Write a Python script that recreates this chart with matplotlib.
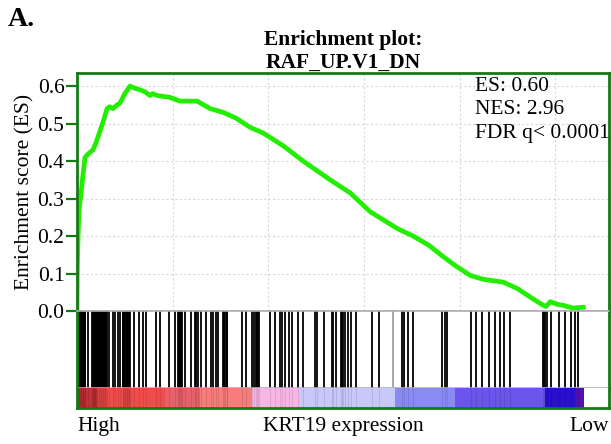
import numpy as np
import matplotlib
matplotlib.use('Agg')
import matplotlib.pyplot as plt

plt.rcParams['font.family'] = ['Liberation Serif', 'DejaVu Serif']

# ---- data (ranks in gene list, running enrichment score) ----
n_genes = 26520
x_max = 27800

es_rank = [0, 15, 40, 70, 110, 200, 330, 420, 600, 840, 1000, 1200, 1400, 1570,
           1700, 1880, 2100, 2250, 2500, 2770, 3000, 3300, 3550, 3820, 3950,
           4200, 4860, 5390, 6280, 6960, 7640, 8300, 9050, 9730, 10800, 11820,
           13230, 14280, 15320, 16740, 17570, 18400, 19140, 19800, 20550,
           21200, 22280, 23010, 23600, 24210, 24500, 24740, 25100, 25420,
           25900, 26460]
es_value = [0, 0.10, 0.17, 0.22, 0.27, 0.31, 0.37, 0.41, 0.42, 0.43, 0.45, 0.48,
            0.51, 0.54, 0.545, 0.54, 0.55, 0.555, 0.58, 0.60, 0.595, 0.59,
            0.585, 0.575, 0.58, 0.575, 0.57, 0.56, 0.56, 0.54, 0.53, 0.515,
            0.49, 0.475, 0.44, 0.40, 0.35, 0.315, 0.265, 0.22, 0.20, 0.175,
            0.145, 0.12, 0.095, 0.085, 0.077, 0.06, 0.04, 0.02, 0.012, 0.025,
            0.018, 0.015, 0.008, 0.01]

hit_rank = [20, 55, 90, 125, 160, 195, 230, 265, 300, 335, 370, 405, 435,
            575,
            790, 825, 860, 895, 930, 965, 1000, 1035, 1070, 1105, 1140, 1175,
            1210, 1245, 1280, 1315, 1350, 1385, 1420, 1455, 1490, 1525, 1555,
            1658, 1899, 2003, 2144, 2249,
            2390, 2425, 2460, 2495, 2530, 2565, 2600, 2635, 2670, 2705, 2740,
            2770,
            2997, 3258, 3436, 3609, 4132, 4341, 4796, 5110, 5282, 5340, 5390,
            5440, 5490, 5648, 5962, 6171, 6230, 6300, 6485,
            6731, 7024, 7130, 7254, 7375, 7636, 7700, 7760, 7820, 7860, 8645,
            8855, 9137, 9257, 9346, 9400, 9450, 9520, 10078, 10340, 10617,
            10737, 10878, 11088, 11260, 11574, 11835, 12447, 12536, 12918,
            13320, 13389, 13509, 13771, 13840, 13880, 14000, 14173, 14293,
            14555, 15429, 15779, 16998, 17087, 17296, 17557, 19090, 19210,
            19351, 20606, 20852, 21166, 21511, 21846, 22123, 22296, 22646,
            24336, 24400, 24440, 24566, 24775, 25172, 25522, 25820, 26008,
            26186]
gray_hit_rank = [16527]

# ranked-metric colour bar: segment edges (ranks) and colours
bar_edges = [0, 1050, 4600, 6430, 9150, 11660, 16630, 19770, 24480, 26050, 26520]
bar_colors = ['#c4323c', '#f04c4c', '#e8606a', '#f87c7c', '#f8b6e6',
              '#c8c8fa', '#8a8af5', '#6c55ec', '#2a10cc', '#5510b0']

stats_text = 'ES: 0.60\nNES: 2.96\nFDR q< 0.0001'
green_border = '#157a15'
sep_gray = '#b0b0b0'
fs = 15.5

fig = plt.figure(figsize=(6.11, 4.44), dpi=100)

ax_es = fig.add_axes([0.126, 0.2995, 0.8707, 0.536])
ax_hit = fig.add_axes([0.126, 0.126, 0.8707, 0.1735])
ax_bar = fig.add_axes([0.126, 0.081, 0.8707, 0.045])

# --- ES panel ---
ax_es.plot(es_rank, es_value, color='#22ee00', linewidth=3.4, solid_joinstyle='round')
ax_es.set_xlim(0, x_max)
ax_es.set_ylim(0, 0.635)
ax_es.set_yticks([0.0, 0.1, 0.2, 0.3, 0.4, 0.5, 0.6])
ax_es.set_yticklabels(['0.0', '0.1', '0.2', '0.3', '0.4', '0.5', '0.6'])
ax_es.set_xticks([5000, 10000, 15000, 20000, 25000])
ax_es.tick_params(axis='x', length=0, labelbottom=False)
ax_es.tick_params(axis='y', direction='out', length=8, width=1.6,
                  color=green_border, labelsize=fs, pad=1)
ax_es.grid(True, linestyle=(0, (2, 2)), color='#d8d8d8', linewidth=0.8)
ax_es.set_ylabel('Enrichment score (ES)', fontsize=fs, labelpad=2)
for side in ['top', 'left', 'right']:
    ax_es.spines[side].set_color(green_border)
    ax_es.spines[side].set_linewidth(2)
ax_es.spines['bottom'].set_color(sep_gray)
ax_es.spines['bottom'].set_linewidth(1.2)
ax_es.text(0.748, 0.985, stats_text, transform=ax_es.transAxes, ha='left',
           va='top', fontsize=fs, linespacing=1.32)
ax_es.set_title('Enrichment plot:\nRAF_UP.V1_DN', fontsize=fs,
                fontweight='bold', linespacing=1.2, pad=3)

# --- hit panel ---
ax_hit.vlines(hit_rank, 0, 1, color='black', linewidth=1.3)
ax_hit.vlines(gray_hit_rank, 0, 1, color='#a0a0a0', linewidth=1.3)
ax_hit.set_xlim(0, x_max)
ax_hit.set_ylim(0, 1)
ax_hit.set_xticks([])
ax_hit.set_yticks([])
for side in ['left', 'right']:
    ax_hit.spines[side].set_color(green_border)
    ax_hit.spines[side].set_linewidth(2)
for side in ['top', 'bottom']:
    ax_hit.spines[side].set_color(sep_gray)
    ax_hit.spines[side].set_linewidth(1.2)

# --- colour bar ---
for i, c in enumerate(bar_colors):
    ax_bar.axvspan(bar_edges[i], bar_edges[i + 1], color=c, linewidth=0)
ax_bar.vlines(hit_rank, 0, 1, color='black', linewidth=0.8, alpha=0.1)
ax_bar.set_xlim(0, x_max)
ax_bar.set_ylim(0, 1)
ax_bar.set_xticks([])
ax_bar.set_yticks([])
for side in ['left', 'right', 'bottom']:
    ax_bar.spines[side].set_color(green_border)
    ax_bar.spines[side].set_linewidth(2)
ax_bar.spines['top'].set_visible(False)

# bottom labels
ax_bar.text(0.0, -0.45, 'High', transform=ax_bar.transAxes, ha='left', va='top', fontsize=fs)
ax_bar.text(0.5, -0.45, 'KRT19 expression', transform=ax_bar.transAxes, ha='center', va='top', fontsize=fs)
ax_bar.text(1.0, -0.45, 'Low', transform=ax_bar.transAxes, ha='right', va='top', fontsize=fs)

fig.text(0.013, 0.985, 'A.', fontsize=20, fontweight='bold', ha='left', va='top')

fig.savefig('out.png', dpi=100)
